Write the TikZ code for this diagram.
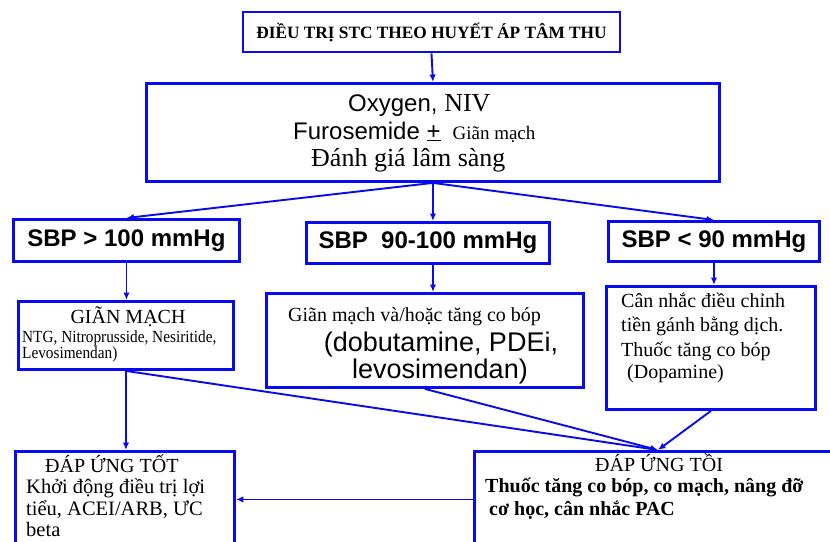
\documentclass[tikz,border=0pt]{standalone}
\usepackage{fontspec}
\setmainfont{Liberation Serif}
\newfontfamily\arialfont{Liberation Sans}
\usetikzlibrary{arrows.meta}
\definecolor{flowblue}{RGB}{10,10,240}
\newcommand{\fsz}[1]{\fontsize{#1}{#1}\selectfont}

\begin{document}
\begin{tikzpicture}[x=1pt,y=-1pt,
  box/.style={draw=flowblue, line width=2.9pt, fill=white, inner sep=0pt},
  txt/.style={inner sep=0pt, anchor=base west},
  ctxt/.style={inner sep=0pt, anchor=base},
  link/.style={draw=flowblue, line width=1.9pt, -{Latex[length=7.5pt,width=6.5pt]}}]

\useasboundingbox (0,0) rectangle (830,541);
\fill[white] (0,0) rectangle (830,541);
\clip (0,0) rectangle (830,541);

% ---- boxes ----
\node[box, minimum width=377pt, minimum height=40pt] (title) at (431.5,32)
  {\bfseries\fsz{17.3}ĐIỀU TRỊ STC THEO HUYẾT ÁP TÂM THU};
\node[box, anchor=north west, minimum width=573pt, minimum height=98pt] (main) at (145,82) {};

\node[box, anchor=north west, minimum width=226pt, minimum height=42pt] (sbpA) at (12,218)
  {\arialfont\bfseries\fsz{24}SBP > 100 mmHg};
\node[box, anchor=north west, minimum width=243pt, minimum height=41pt] (sbpB) at (305,221)
  {\arialfont\bfseries\fsz{24}SBP\ \ 90-100 mmHg};
\node[box, anchor=north west, minimum width=211pt, minimum height=40pt] (sbpC) at (607,220)
  {\arialfont\bfseries\fsz{24}SBP < 90 mmHg};

\node[box, anchor=north west, minimum width=215pt, minimum height=68pt] (vaso) at (17,300) {};
\node[box, anchor=north west, minimum width=317pt, minimum height=94pt] (mixed) at (265,292) {};
\node[box, anchor=north west, minimum width=209pt, minimum height=123pt] (low) at (605,285) {};

\node[box, anchor=north west, minimum width=219pt, minimum height=96pt] (good) at (14,450) {};
\node[box, anchor=north west, minimum width=367pt, minimum height=96pt] (poor) at (473,450) {};

% ---- texts ----
\node[txt] (oxy) at (348,111) {\arialfont\fsz{24}Oxygen, {\rmfamily\fsz{26}NIV}};
\node[txt] (furo) at (293,139) {\arialfont\fsz{24}Furosemide \underline{+}\hspace{12pt}{\rmfamily\fsz{19}Giãn mạch}};
\node[txt] (eval) at (311,166) {\fsz{26}Đánh giá lâm sàng};

\node[ctxt] (vasoA) at (128,323) {\fsz{20}GIÃN MẠCH};
\node[txt] (vasoB) at (22,342) {\scalebox{0.9}[1]{\fsz{17}NTG, Nitroprusside, Nesiritide,}};
\node[txt] (vasoC) at (22,358) {\scalebox{0.9}[1]{\fsz{17}Levosimendan)}};

\node[txt] (mixA) at (288,321) {\fsz{20}Giãn mạch và/hoặc tăng co bóp};
\node[ctxt] (mixB) at (441,351) {\arialfont\fsz{27}(dobutamine, PDEi,};
\node[ctxt] (mixC) at (440,378) {\arialfont\fsz{27}levosimendan)};

\node[txt] (lowA) at (621,307) {\fsz{20}Cân nhắc điều chỉnh};
\node[txt] (lowB) at (621,331) {\fsz{20}tiền gánh bằng dịch.};
\node[txt] (lowC) at (621,356) {\fsz{20}Thuốc tăng co bóp};
\node[txt] (lowD) at (627,378) {\fsz{20}(Dopamine)};

\node[txt] (goodA) at (45,472) {\fsz{20}ĐÁP ỨNG TỐT};
\node[txt] (goodB) at (26,493) {\fsz{20.5}Khởi động điều trị lợi};
\node[txt] (goodC) at (26,515) {\fsz{20.5}tiểu, ACEI/ARB, ƯC};
\node[txt] (goodD) at (26,536) {\fsz{20.5}beta};

\node[txt] (poorA) at (595,471) {\fsz{20}ĐÁP ỨNG TỒI};
\node[txt] (poorB) at (485,492) {\bfseries\fsz{20}Thuốc tăng co bóp, co mạch, nâng đỡ};
\node[txt] (poorC) at (489,515) {\bfseries\fsz{20}cơ học, cân nhắc PAC};

% ---- connectors ----
\draw[link] (title.south) -- (main.north);
\draw[link] (main.south) -- (sbpA.north);
\draw[link] (main.south) -- (main.south |- sbpB.north);
\draw[link] (main.south) -- (sbpC.north);
\draw[link] (sbpA.south) -- (sbpA.south |- vaso.north);
\draw[link] (main.south |- sbpB.south) -- (main.south |- mixed.north);
\draw[link] (sbpC.south) -- (sbpC.south |- low.north);
\draw[link] (vaso.south) -- (vaso.south |- good.north);
\draw[link] (vaso.south) -- (poor.north);
\draw[link] (mixed.south) -- (poor.north);
\draw[link] (low.south) -- (poor.north);
\draw[link] (poor.west) -- (good.east);
\end{tikzpicture}
\end{document}
